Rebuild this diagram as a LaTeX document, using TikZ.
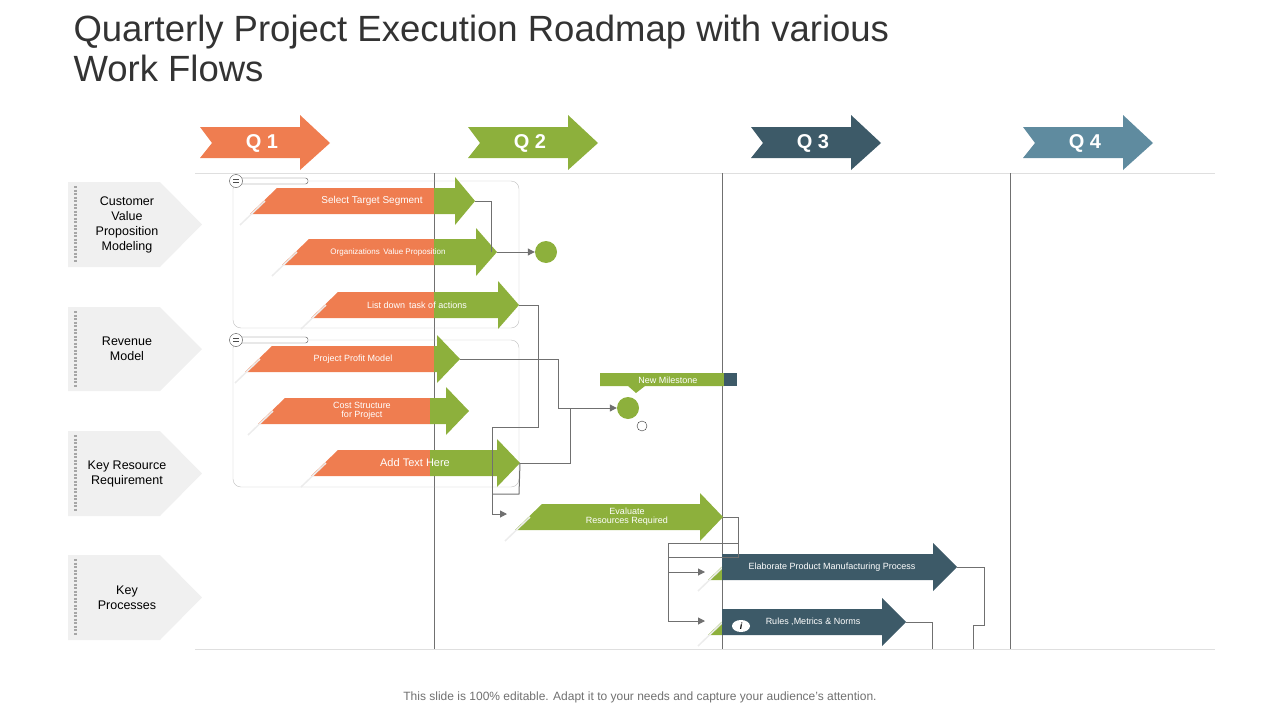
\documentclass[tikz,border=0pt]{standalone}
\usepackage{fontspec}
\setmainfont{Liberation Sans}
\usetikzlibrary{arrows.meta,shapes.geometric}
\definecolor{qorange}{HTML}{EF7D50}
\definecolor{qgreen}{HTML}{8DB03C}
\definecolor{qdark}{HTML}{3D5A68}
\definecolor{qblue}{HTML}{5F8B9F}
\definecolor{qgray}{HTML}{707070}
\tikzset{
  link/.style={draw=qgray, line width=1pt},
  linkarrow/.style={link, -{Triangle[length=7pt,width=7pt]}},
  tasktext/.style={text=white, align=center, font=\fontsize{#1}{#1}\selectfont},
}
% quarter arrow: x-left, colour, label
\newcommand{\quarter}[3]{
  \fill[#2] (#1,127) -- ++(100,0) -- ++(0,-12) -- ++(30,28) -- ++(-30,27)
    -- ++(0,-12) -- ++(-100,0) -- ++(12,-15) -- cycle;
  \node[text=white, font=\fontsize{20}{20}\selectfont\bfseries] (q#3) at (#1+62,143) {Q #3};
}
% side label: top y, bottom y, text
\newcommand{\sidelabel}[3]{
  \fill[gray!12] (68,#1) -- (160,#1) -- (202,{(#1+#2)/2}) -- (160,#2) -- (68,#2) -- cycle;
  \draw[gray!70, line width=3pt, dash pattern=on 2pt off 1.5pt] (75,#1+4) -- (75,#2-4);
  \node[align=center, font=\fontsize{12.5}{15}\selectfont] at (127,{(#1+#2)/2}) {#3};
}
% task arrow: name, left x, split x, head x, tip x, y, body colour, head colour
\newcommand{\task}[8]{
  \fill[#7] (#2,#6+13) -- (#2+27,#6-13) -- (#3,#6-13) -- (#3,#6+13) -- cycle;
  \fill[#8] (#3,#6-13) -- (#4,#6-13) -- (#4,#6-24) -- (#5,#6) -- (#4,#6+24)
    -- (#4,#6+13) -- (#3,#6+13) -- cycle;
  \draw[gray!15, line width=1.5pt] (#2-10,#6+24) -- (#2+15,#6);
  \coordinate (#1) at (#5,#6);
}
\begin{document}
\begin{tikzpicture}[x=1pt, y=-1pt]
  \useasboundingbox (0,0) rectangle (1280,720);
  \node[anchor=west, text=black!80, align=left, font=\fontsize{36.5}{40}\selectfont] (title) at (70,48)
    {Quarterly Project Execution Roadmap with various\\Work Flows};

  % quarters
  \quarter{200}{qorange}{1}
  \quarter{468}{qgreen}{2}
  \quarter{751}{qdark}{3}
  \quarter{1023}{qblue}{4}

  % grid
  \draw[gray!25, line width=1pt] (195,173) -- (1215,173) (195,649) -- (1215,649);
  \foreach \x in {434,722,1010}
    \draw[qgray, line width=0.8pt] (\x,173) -- (\x,649);

  % side labels
  \sidelabel{182}{267}{Customer\\Value\\Proposition\\Modeling}
  \sidelabel{307}{391}{Revenue\\Model}
  \sidelabel{431}{516}{Key Resource\\Requirement}
  \sidelabel{555}{640}{Key\\Processes}

  % groups
  \draw[gray!50, rounded corners=8pt] (233,181) rectangle (519,328);
  \draw[gray!50, rounded corners=8pt] (233,340) rectangle (519,487);
  \foreach \y in {181,340} {
    \draw[black!70, fill=white, rounded corners=2.5pt] (238,\y-3) rectangle (308,\y+3);
    \draw[black!70, fill=white] (236,\y) circle (6.5);
    \draw[black!70] (233,\y-1.5) -- (239,\y-1.5) (233,\y+1.5) -- (239,\y+1.5);
  }

  % tasks
  \task{select}{250}{434}{455}{475}{201}{qorange}{qgreen}
  \node[tasktext=10] (selectT) at (372,201) {Select Target Segment};
  \task{orgval}{282}{434}{476}{497}{252}{qorange}{qgreen}
  \node[tasktext=8] (orgvalT) at (388,252) {Organizations\, Value Proposition};
  \task{listdown}{311}{434}{498}{519}{305}{qorange}{qgreen}
  \node[tasktext=9] (listdownT) at (417,305) {List down\, task of actions};
  \task{profit}{245}{434}{437}{460}{359}{qorange}{qgreen}
  \node[tasktext=9] (profitT) at (353,359) {Project Profit Model};
  \task{cost}{258}{430}{446}{469}{411}{qorange}{qgreen}
  \node[tasktext=9] (costT) at (362,411) {Cost Structure\\for Project};
  \task{addtext}{311}{430}{497}{520}{463}{qorange}{qgreen}
  \node[tasktext=11] (addtextT) at (415,463) {Add Text Here};
  \task{evaluate}{515}{600}{700}{723}{517}{qgreen}{qgreen}
  \node[tasktext=9] (evaluateT) at (627,517) {Evaluate\\Resources Required};
  \task{elaborate}{708}{722}{933}{957}{567}{qgreen}{qdark}
  \fill[qdark] (722,554) rectangle (735,580);
  \node[tasktext=9] (elaborateT) at (832,567) {Elaborate Product Manufacturing Process};
  \task{rules}{708}{722}{882}{906}{622}{qgreen}{qdark}
  \fill[qdark] (722,609) rectangle (735,635);
  \node[tasktext=9] (rulesT) at (813,622) {Rules ,Metrics \& Norms};
  \node[fill=white, ellipse, inner sep=0pt, minimum width=18pt, minimum height=12pt,
    font=\fontsize{9}{9}\selectfont\bfseries\itshape] (info) at (741,626) {i};

  % milestones
  \node[circle, fill=qgreen, minimum size=22pt, inner sep=0pt] (goal1) at (546,252) {};
  \fill[qgreen] (600,373) rectangle (724,386) (628,386) -- (645,386) -- (636,393) -- cycle;
  \fill[qdark] (724,373) rectangle (737,386);
  \node[tasktext=9] (milestoneT) at (668,380) {New Milestone};
  \node[circle, fill=qgreen, minimum size=22pt, inner sep=0pt] (goal2) at (628,408) {};
  \node[circle, draw=black!80, minimum size=10pt, inner sep=0pt] (clock) at (642,426) {};

  % connectors
  \draw[link] (select) -- (491,201) -- (491,252);
  \draw[linkarrow] (orgval) -- (goal1);
  \draw[link] (listdown) -- (538,305) -- (538,427) -- (492,427) -- (492,514);
  \draw[linkarrow] (492,514) -- (507,514);
  \draw[linkarrow] (profit) -- (558,359) -- (558,408) -- (goal2);
  \draw[link] (addtext) -- (570,463) -- (570,408);
  \draw[link] (addtext) -- (519,494) -- (492,494);
  \draw[link] (evaluate) -- (738,517) -- (738,557) -- (668,557);
  \draw[link] (668,543) -- (668,621);
  \draw[link] (668,543) -- (738,543);
  \draw[linkarrow] (668,572) -- (705,572);
  \draw[linkarrow] (668,621) -- (705,621);
  \draw[link] (elaborate) -- (984,567) -- (984,625) -- (973,625) -- (973,649);
  \draw[link] (rules) -- (932,622) -- (932,649);

  \node[text=qgray, font=\fontsize{12}{14}\selectfont] (footer) at (640,697)
    {This slide is 100\% editable. Adapt it to your needs and capture your audience's attention.};
\end{tikzpicture}
\end{document}
